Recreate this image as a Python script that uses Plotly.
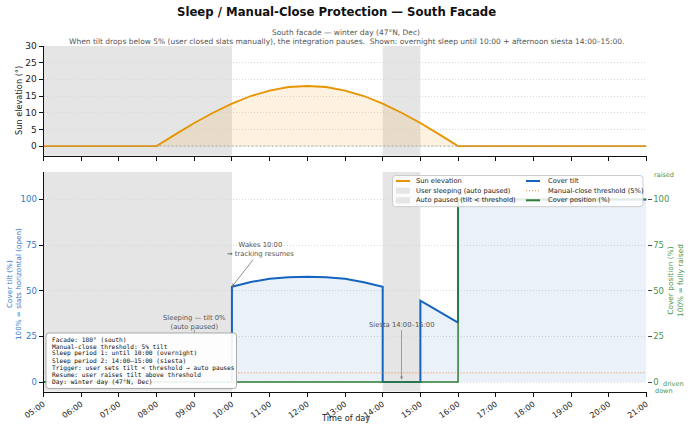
import plotly.graph_objects as go

W, H = 690, 429

def fx(p):
    return p / W

def fy(p):
    return 1 - p / H

# ---------------- data ----------------
hour_ticks = list(range(5, 22))
hour_labels = [f"{h:02d}:00" for h in hour_ticks]

sun_t = [5, 8, 8.5, 9, 9.5, 10, 10.5, 11, 11.5, 12, 12.5, 13, 13.5, 14, 14.5, 15, 15.5, 16, 21]
sun_el = [0, 0, 3.5, 6.9, 10.0, 12.7, 15.0, 16.6, 17.7, 18.0, 17.7, 16.6, 15.0, 12.7, 10.0, 6.9, 3.5, 0, 0]

tilt_t = [5, 10, 10, 10.5, 11, 11.5, 12, 12.5, 13, 13.5, 14, 14, 15, 15, 15.25, 15.5, 15.75, 16, 16, 21]
tilt = [0, 0, 52.2, 54.8, 56.5, 57.4, 57.6, 57.3, 56.5, 54.6, 52.2, 0, 0, 44.5, 41.6, 38.6, 35.6, 32.5, 100, 100]

pos_t = [5, 16, 16, 21]
position = [0, 0, 100, 100]

threshold_t = [5, 21]
threshold = [5, 5]

sleep_periods = [(5, 10), (14, 15)]

info_lines = [
    "Facade: 180° (south)",
    "Manual-close threshold: 5% tilt",
    "Sleep period 1: until 10:00 (overnight)",
    "Sleep period 2: 14:00–15:00 (siesta)",
    "Trigger: user sets tilt < threshold → auto pauses",
    "Resume: user raises tilt above threshold",
    "Day: winter day (47°N, Dec)",
]

# ---------------- colours ----------------
ORANGE = "#e69500"
BLUE = "#1565c0"
GREEN = "#2e7d32"
GREEN_TXT = "#4a954d"
BLUE_TXT = "#2f78cf"
THR = "#f0883a"
SHADE = "#e5e5e5"
GRID = "#d9d9d9"
FONT = "DejaVu Sans"

fig = go.Figure()

# top panel: sun elevation
fig.add_trace(go.Scatter(x=sun_t, y=sun_el, mode="lines", line=dict(color=ORANGE, width=1.8),
                         fill="tozeroy", fillcolor="rgba(240,170,40,0.15)",
                         xaxis="x", yaxis="y", showlegend=False, hoverinfo="skip"))

# bottom panel
fig.add_trace(go.Scatter(x=tilt_t, y=tilt, mode="lines", line=dict(color=BLUE, width=2),
                         fill="tozeroy", fillcolor="rgba(21,101,192,0.09)",
                         xaxis="x2", yaxis="y2", showlegend=False, hoverinfo="skip"))
fig.add_trace(go.Scatter(x=threshold_t, y=threshold, mode="lines",
                         line=dict(color=THR, width=1, dash="1px,2px"),
                         xaxis="x2", yaxis="y2", showlegend=False, hoverinfo="skip"))
fig.add_trace(go.Scatter(x=pos_t, y=position, mode="lines", line=dict(color=GREEN, width=1.5),
                         xaxis="x2", yaxis="y3", showlegend=False, hoverinfo="skip"))

xdom = [fx(43.5), fx(646.5)]
axis_common = dict(range=[5, 21], tickvals=hour_ticks, domain=xdom, showgrid=False, zeroline=False,
                   showline=True, linecolor="#111", linewidth=1, ticks="outside", ticklen=4,
                   tickcolor="#111", tickwidth=1, automargin=False)

fig.update_layout(
    template="none",
    width=W, height=H, margin=dict(l=0, r=0, t=0, b=0, pad=0),
    paper_bgcolor="white", plot_bgcolor="white",
    font=dict(family=FONT, size=8, color="#222"),
    showlegend=False,
    xaxis=dict(**axis_common, anchor="y", showticklabels=False, matches="x2"),
    xaxis2=dict(**axis_common, anchor="y2", ticktext=hour_labels, tickangle=-35,
                tickfont=dict(size=8, color="#222")),
    yaxis=dict(domain=[fy(155.7), fy(46)], range=[-2.9, 30], tickvals=[0, 5, 10, 15, 20, 25, 30],
               anchor="x", showline=True, linecolor="#111", linewidth=1, ticks="outside", ticklen=4,
               tickcolor="#111", tickfont=dict(size=9, color="#222"), zeroline=False, automargin=False,
               showgrid=True, gridcolor=GRID, griddash="1px,2px", gridwidth=0.8),
    yaxis2=dict(domain=[fy(391.5), fy(172)], range=[-5.2, 115], tickvals=[0, 25, 50, 75, 100],
                anchor="x2", showline=True, linecolor="#111", linewidth=1, ticks="outside", ticklen=4,
                tickcolor="#111", tickfont=dict(size=8.5, color=BLUE_TXT), zeroline=False, automargin=False,
                showgrid=True, gridcolor=GRID, griddash="1px,2px", gridwidth=0.8),
    yaxis3=dict(overlaying="y2", side="right", anchor="x2", range=[-5.2, 115], automargin=False,
                tickvals=[0, 25, 50, 75, 100], showline=False, ticks="outside", ticklen=4,
                tickcolor="#444", tickfont=dict(size=8.5, color=GREEN_TXT), zeroline=False, showgrid=False),
)

shapes = []
for a, b in sleep_periods:
    shapes.append(dict(type="rect", xref="x", yref="y domain", x0=a, x1=b, y0=0, y1=1,
                       fillcolor=SHADE, line=dict(width=0), layer="below"))
    shapes.append(dict(type="rect", xref="x2", yref="y2 domain", x0=a, x1=b, y0=0, y1=1,
                       fillcolor=SHADE, line=dict(width=0), layer="below"))
# zero reference line in top panel
shapes.append(dict(type="line", xref="x domain", yref="y", x0=0, x1=1, y0=0, y1=0,
                   line=dict(color="#999", width=0.8, dash="2px,2px"), layer="above"))


def rrect(x0, y0, x1, y1, r):
    pts = lambda x, y: f"{fx(x):.5f},{fy(y):.5f}"
    return (f"M {pts(x0 + r, y0)} L {pts(x1 - r, y0)} Q {pts(x1, y0)} {pts(x1, y0 + r)} "
            f"L {pts(x1, y1 - r)} Q {pts(x1, y1)} {pts(x1 - r, y1)} L {pts(x0 + r, y1)} "
            f"Q {pts(x0, y1)} {pts(x0, y1 - r)} L {pts(x0, y0 + r)} Q {pts(x0, y0)} {pts(x0 + r, y0)} Z")

# info box
shapes.append(dict(type="path", xref="paper", yref="paper", path=rrect(46, 333, 236.5, 388.5, 3),
                   fillcolor="rgba(255,255,255,0.92)", line=dict(color="#aaaaaa", width=1), layer="above"))
# legend box
shapes.append(dict(type="path", xref="paper", yref="paper", path=rrect(392.5, 175.5, 643, 206.7, 3),
                   fillcolor="rgba(255,255,255,0.85)", line=dict(color="#cccccc", width=1), layer="above"))
# sleeping arrow stub
shapes.append(dict(type="line", xref="paper", yref="paper", x0=fx(194.3), x1=fx(194.3), y0=fy(329.5),
                   y1=fy(333), line=dict(color="#888", width=0.8), layer="above"))

# legend symbols
rows = [181, 190.7, 200.3]
col1_sym, col1_txt = (396, 410), 414
col2_sym, col2_txt = (526, 540), 546
legend_items = [
    (1, 0, "line", ORANGE, None, "Sun elevation"),
    (1, 1, "patch", SHADE, None, "User sleeping (auto paused)"),
    (1, 2, "patch", SHADE, None, "Auto paused (tilt < threshold)"),
    (2, 0, "line", BLUE, None, "Cover tilt"),
    (2, 1, "line", THR, "1px,2px", "Manual-close threshold (5%)"),
    (2, 2, "line", GREEN, None, "Cover position (%)"),
]
annotations = []
for col, r, kind, color, dash, label in legend_items:
    (s0, s1), tx = (col1_sym, col1_txt) if col == 1 else (col2_sym, col2_txt)
    y = rows[r]
    if kind == "line":
        shapes.append(dict(type="line", xref="paper", yref="paper", x0=fx(s0), x1=fx(s1), y0=fy(y), y1=fy(y),
                           line=dict(color=color, width=2 if dash is None else 1, dash=dash or "solid"),
                           layer="above"))
    else:
        shapes.append(dict(type="rect", xref="paper", yref="paper", x0=fx(s0), x1=fx(s1), y0=fy(y + 3),
                           y1=fy(y - 3), fillcolor=color, line=dict(width=0), layer="above"))
    annotations.append(dict(xref="paper", yref="paper", x=fx(tx), y=fy(y), text=label, showarrow=False,
                            xanchor="left", yanchor="middle", font=dict(size=6.7, color="#222")))

# info box text
for i, line in enumerate(info_lines):
    annotations.append(dict(xref="paper", yref="paper", x=fx(50), y=fy(339.3 + i * 7.07), text=line,
                            showarrow=False, xanchor="left", yanchor="middle",
                            font=dict(family="DejaVu Sans Mono", size=6.2, color="#111")))

# titles
annotations += [
    dict(xref="paper", yref="paper", x=fx(336), y=fy(12), text="<b>Sleep / Manual-Close Protection — South Facade</b>",
         showarrow=False, xanchor="center", yanchor="middle", font=dict(size=11.7, color="#111")),
    dict(xref="paper", yref="paper", x=fx(346), y=fy(33), text="South facade — winter day (47°N, Dec)",
         showarrow=False, xanchor="center", yanchor="middle", font=dict(size=7.5, color="#555")),
    dict(xref="paper", yref="paper", x=fx(346), y=fy(41.5),
         text="When tilt drops below 5% (user closed slats manually), the integration pauses.  Shown: overnight sleep until 10:00 + afternoon siesta 14:00–15:00.",
         showarrow=False, xanchor="center", yanchor="middle", font=dict(size=7.5, color="#555")),
    dict(xref="paper", yref="paper", x=fx(19), y=fy(101), text="Sun elevation (°)", textangle=-90,
         showarrow=False, xanchor="center", yanchor="middle", font=dict(size=8.2, color="#222")),
    dict(xref="paper", yref="paper", x=fx(14), y=fy(284), text="Cover tilt (%)<br>100% = slats horizontal (open)",
         textangle=-90, showarrow=False, xanchor="center", yanchor="middle", font=dict(size=7.2, color=BLUE_TXT)),
    dict(xref="paper", yref="paper", x=fx(675), y=fy(281), text="Cover position (%)<br>100% = fully raised",
         textangle=-90, showarrow=False, xanchor="center", yanchor="middle", font=dict(size=7.4, color=GREEN_TXT)),
    dict(xref="paper", yref="paper", x=fx(345), y=fy(418), text="Time of day",
         showarrow=False, xanchor="center", yanchor="middle", font=dict(size=8.2, color="#222")),
    dict(xref="paper", yref="paper", x=fx(652), y=fy(175), text="raised",
         showarrow=False, xanchor="left", yanchor="middle", font=dict(size=6.5, color=GREEN_TXT)),
    dict(xref="paper", yref="paper", x=fx(661), y=fy(384), text="driven",
         showarrow=False, xanchor="left", yanchor="middle", font=dict(size=6.5, color=GREEN_TXT)),
    dict(xref="paper", yref="paper", x=fx(653), y=fy(391), text="down",
         showarrow=False, xanchor="left", yanchor="middle", font=dict(size=6.5, color=GREEN_TXT)),
    # in-plot annotations
    dict(xref="x2", yref="y2", x=10, y=52.2, text="Wakes 10:00<br>→ tracking resumes",
         showarrow=True, ax=29, ay=-37, arrowhead=2, arrowsize=0.8, arrowwidth=0.8, arrowcolor="#777",
         font=dict(size=6.8, color="#555")),
    dict(xref="paper", yref="paper", x=fx(194.3), y=fy(322), text="Sleeping — tilt 0%<br>(auto paused)",
         showarrow=False, xanchor="center", yanchor="middle", font=dict(size=6.8, color="#555")),
    dict(xref="x2", yref="y2", x=14.5, y=1.2, text="Siesta 14:00–15:00",
         showarrow=True, ax=0, ay=-55, arrowhead=2, arrowsize=0.8, arrowwidth=0.8, arrowcolor="#888",
         font=dict(size=6.8, color="#555")),
]

fig.update_layout(shapes=shapes, annotations=annotations)
fig.write_html("out.html")
